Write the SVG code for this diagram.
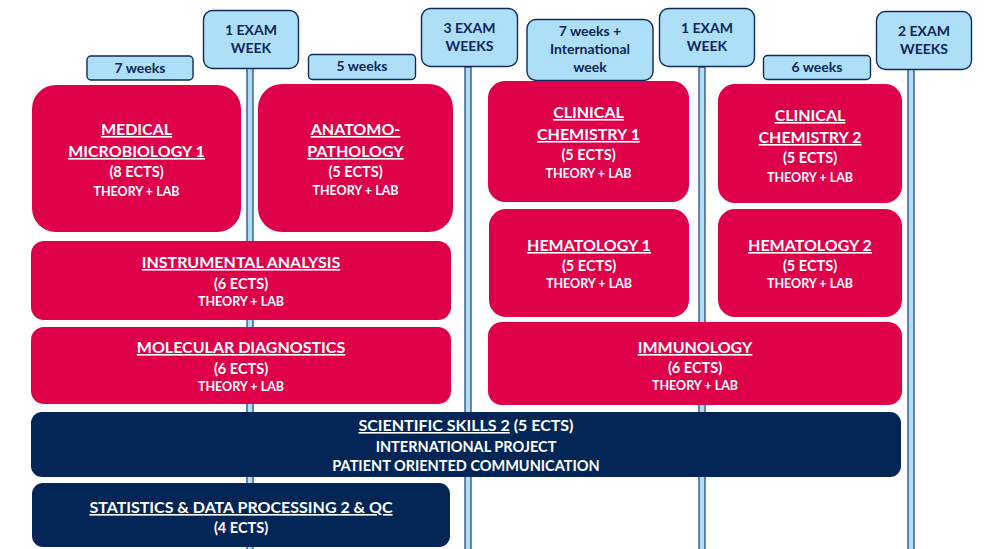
<svg xmlns="http://www.w3.org/2000/svg" width="989" height="549" viewBox="0 0 989 549">
<style>
.pole{fill:#ADDFF9;stroke:#2E4A7D;stroke-width:1.3}
.lbl{fill:#ADDFF9;stroke:#0F2A5C;stroke-width:1.4}
.lt{font-family:Lato,"Liberation Sans",sans-serif;font-weight:bold;font-size:14px;fill:#0F2557;text-anchor:middle}
.red{fill:#DE0049}
.navy{fill:#032657}
.t{font-family:Lato,"Liberation Sans",sans-serif;font-weight:bold;fill:#fff;text-anchor:middle}
.h{font-size:16px;text-decoration:underline}
.e{font-size:14.5px}
.s{font-size:12.5px}
.u{text-decoration:underline}
</style>
<g id="connectors">
<rect class="pole" x="247" y="68" width="6" height="490"/>
<rect class="pole" x="465" y="67" width="6" height="490"/>
<rect class="pole" x="699" y="67" width="6" height="490"/>
<rect class="pole" x="908" y="69" width="6" height="490"/>
</g>
<g id="lbl-7weeks"><rect class="lbl" x="87" y="56" width="106" height="24" rx="4"/><text class="lt" x="140" y="73">7 weeks</text></g>
<g id="lbl-exam1"><rect class="lbl" x="203.5" y="10.5" width="95" height="58" rx="9"/><text class="lt" x="251" y="35">1 EXAM</text><text class="lt" x="251" y="53">WEEK</text></g>
<g id="lbl-5weeks"><rect class="lbl" x="308.5" y="54.5" width="107" height="25" rx="4"/><text class="lt" x="362" y="71">5 weeks</text></g>
<g id="lbl-exam3"><rect class="lbl" x="421.5" y="8.5" width="96" height="58" rx="9"/><text class="lt" x="469.5" y="33">3 EXAM</text><text class="lt" x="469.5" y="51">WEEKS</text></g>
<g id="lbl-7weeksint"><rect class="lbl" x="527" y="19.5" width="126" height="61" rx="9"/><text class="lt" x="590" y="36">7 weeks +</text><text class="lt" x="590" y="54">International</text><text class="lt" x="590" y="72">week</text></g>
<g id="lbl-exam1b"><rect class="lbl" x="659.5" y="8.5" width="95" height="58" rx="9"/><text class="lt" x="707" y="33">1 EXAM</text><text class="lt" x="707" y="51">WEEK</text></g>
<g id="lbl-6weeks"><rect class="lbl" x="763.5" y="55.5" width="107" height="24" rx="4"/><text class="lt" x="817" y="72">6 weeks</text></g>
<g id="lbl-exam2"><rect class="lbl" x="876.5" y="11.5" width="95" height="58" rx="9"/><text class="lt" x="924" y="36">2 EXAM</text><text class="lt" x="924" y="54">WEEKS</text></g>

<g id="medmicro"><rect class="red" x="32" y="85" width="209" height="147" rx="24"/>
<text class="t h" x="136.5" y="135">MEDICAL</text><text class="t h" x="136.5" y="157">MICROBIOLOGY 1</text>
<text class="t e" x="136.5" y="177">(8 ECTS)</text><text class="t s" x="136.5" y="196">THEORY + LAB</text></g>
<g id="anatomo"><rect class="red" x="258" y="84" width="195" height="148" rx="24"/>
<text class="t h" x="355.5" y="135">ANATOMO-</text><text class="t h" x="355.5" y="157">PATHOLOGY</text>
<text class="t e" x="355.5" y="177">(5 ECTS)</text><text class="t s" x="355.5" y="195">THEORY + LAB</text></g>
<g id="instrumental"><rect class="red" x="31" y="241" width="420" height="79" rx="13"/>
<text class="t h" x="241" y="268">INSTRUMENTAL ANALYSIS</text><text class="t e" x="241" y="289">(6 ECTS)</text><text class="t s" x="241" y="306">THEORY + LAB</text></g>
<g id="molecular"><rect class="red" x="31" y="327" width="420" height="77" rx="13"/>
<text class="t h" x="241" y="353">MOLECULAR DIAGNOSTICS</text><text class="t e" x="241" y="374">(6 ECTS)</text><text class="t s" x="241" y="391">THEORY + LAB</text></g>
<g id="clinchem1"><rect class="red" x="488" y="81" width="201" height="121" rx="17"/>
<text class="t h" x="588.5" y="118">CLINICAL</text><text class="t h" x="588.5" y="140">CHEMISTRY 1</text>
<text class="t e" x="588.5" y="160">(5 ECTS)</text><text class="t s" x="588.5" y="178">THEORY + LAB</text></g>
<g id="clinchem2"><rect class="red" x="718" y="84" width="184" height="119" rx="17"/>
<text class="t h" x="810" y="121">CLINICAL</text><text class="t h" x="810" y="143">CHEMISTRY 2</text>
<text class="t e" x="810" y="163">(5 ECTS)</text><text class="t s" x="810" y="182">THEORY + LAB</text></g>
<g id="hema1"><rect class="red" x="489" y="209" width="200" height="108" rx="17"/>
<text class="t h" x="589" y="251">HEMATOLOGY 1</text><text class="t e" x="589" y="271">(5 ECTS)</text><text class="t s" x="589" y="288">THEORY + LAB</text></g>
<g id="hema2"><rect class="red" x="718" y="209" width="184" height="108" rx="17"/>
<text class="t h" x="810" y="251">HEMATOLOGY 2</text><text class="t e" x="810" y="271">(5 ECTS)</text><text class="t s" x="810" y="288">THEORY + LAB</text></g>
<g id="immunology"><rect class="red" x="488" y="322" width="414" height="83" rx="14"/>
<text class="t h" x="695" y="353">IMMUNOLOGY</text><text class="t e" x="695" y="373">(6 ECTS)</text><text class="t s" x="695" y="390">THEORY + LAB</text></g>
<g id="sciskills"><rect class="navy" x="31" y="412" width="870" height="65" rx="11"/>
<text class="t" x="466" y="431" font-size="16px"><tspan class="u">SCIENTIFIC SKILLS 2</tspan> (5 ECTS)</text>
<text class="t e" x="466" y="452">INTERNATIONAL PROJECT</text><text class="t e" x="466" y="471">PATIENT ORIENTED COMMUNICATION</text></g>
<g id="statistics"><rect class="navy" x="32" y="483" width="418" height="64" rx="11"/>
<text class="t h" x="241" y="513">STATISTICS &amp; DATA PROCESSING 2 &amp; QC</text><text class="t e" x="241" y="533">(4 ECTS)</text></g>
</svg>
